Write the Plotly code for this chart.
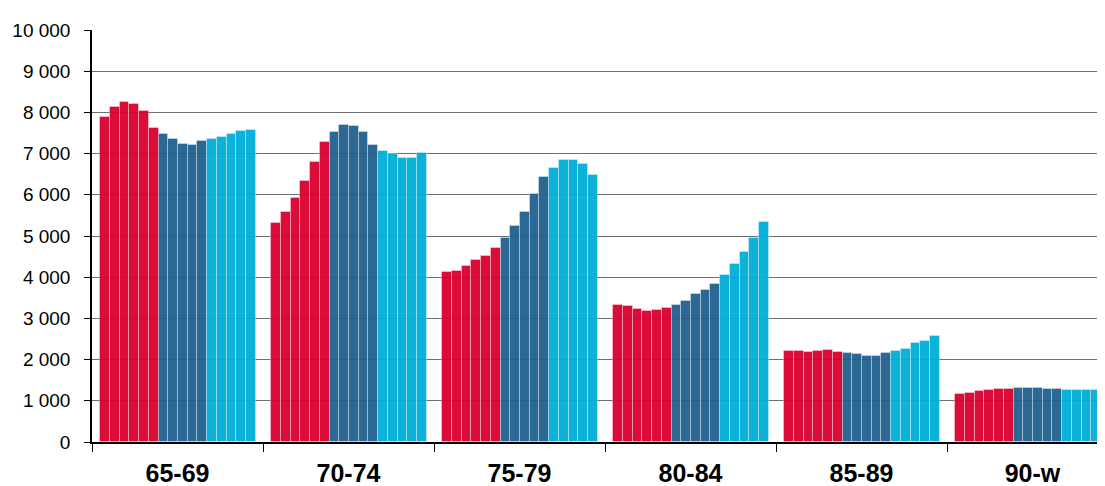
import plotly.graph_objects as go

groups = ["65-69", "70-74", "75-79", "80-84", "85-89", "90-w"]

red_vals = [
    [7896, 8131, 8252, 8196, 8026, 7629],
    [5316, 5591, 5930, 6342, 6795, 7273],
    [4121, 4160, 4267, 4419, 4516, 4703],
    [3331, 3290, 3217, 3185, 3209, 3258],
    [2218, 2218, 2177, 2201, 2225, 2193],
    [1173, 1197, 1245, 1255, 1279, 1286],
]
dark_vals = [
    [7476, 7346, 7225, 7209, 7313],
    [7515, 7692, 7668, 7530, 7200],
    [4945, 5236, 5576, 6012, 6439],
    [3331, 3434, 3596, 3693, 3847],
    [2160, 2128, 2087, 2096, 2160],
    [1303, 1303, 1318, 1294, 1279],
]
light_vals = [
    [7346, 7395, 7468, 7541, 7565],
    [7069, 6989, 6900, 6900, 7006],
    [6657, 6844, 6836, 6747, 6473],
    [4065, 4324, 4606, 4962, 5333],
    [2218, 2266, 2395, 2452, 2573],
    [1262, 1255, 1255, 1262, 1286],
]

y_ticks = list(range(0, 10001, 1000))
y_ticktext = ["0" if v == 0 else f"{v:,}".replace(",", " ") for v in y_ticks]

PERIOD = 17.6
OFFSET = 0.85
PX_PER_UNIT = 9.716

def xs(series, start):
    out_x, out_y = [], []
    for g, vals in enumerate(series):
        for j, v in enumerate(vals):
            out_x.append(g * PERIOD + OFFSET + 0.5 + start + j)
            out_y.append(v)
    return out_x, out_y

fig = go.Figure()
for series, start, color in [
    (red_vals, 0, "#DA002D"),
    (dark_vals, 6, "#21608F"),
    (light_vals, 11, "#00AED8"),
]:
    x, y = xs(series, start)
    fig.add_trace(go.Bar(
        x=x, y=y, width=1,
        marker=dict(color=color, opacity=0.95,
                    line=dict(color="rgba(255,255,255,0.35)", width=1)),
        showlegend=False, hoverinfo="y",
    ))

centers = [g * PERIOD + PERIOD / 2 for g in range(len(groups))]
bounds = [g * PERIOD for g in range(len(groups) + 1)]

W, H = 1105, 486
ML, MT, MB = 84, 22, 52

fig.update_layout(
    width=W, height=H,
    margin=dict(l=ML, r=0, t=MT, b=MB),
    paper_bgcolor="white", plot_bgcolor="white",
    bargap=0,
    font=dict(family="Liberation Sans, Arial, sans-serif", color="black"),
    xaxis=dict(
        range=[0, (W - ML) / PX_PER_UNIT],
        tickmode="array", tickvals=centers, ticktext=groups,
        ticks="outside", ticklen=0,
        tickfont=dict(size=25, family="Liberation Sans, Arial, sans-serif", weight="bold"),
        ticklabelstandoff=8,
        showline=True, linecolor="black", linewidth=1.5,
        showgrid=False, zeroline=False,
        minor=dict(tickmode="array", tickvals=bounds, ticks="outside",
                   ticklen=8, tickcolor="black", tickwidth=1.2, showgrid=False),
    ),
    yaxis=dict(
        range=[0, 10000],
        tickmode="array", tickvals=y_ticks, ticktext=y_ticktext,
        ticks="outside", ticklen=6, tickcolor="black", tickwidth=1.2,
        tickfont=dict(size=19),
        ticklabelstandoff=10,
        showline=True, linecolor="black", linewidth=1.5,
        showgrid=True, gridcolor="#6e6e6e", gridwidth=1.2,
        zeroline=False,
    ),
)

fig.write_html("out.html")
